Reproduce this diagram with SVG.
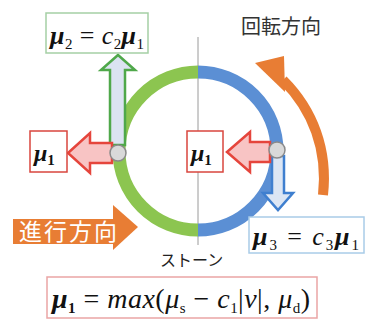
<svg xmlns="http://www.w3.org/2000/svg" width="368" height="320" viewBox="0 0 368 320">
<style>
.m{font-family:'Liberation Serif','Times New Roman',serif;fill:#111}
.b{font-weight:bold;font-style:italic}
.i{font-style:italic}
.sub{font-size:15px;font-style:normal}
.jp{font-family:'Noto Sans CJK JP','Noto Sans',sans-serif}
.box{fill:#fff;stroke-width:1.5}
.red{fill:#f8c4c4;stroke:#e5453c;stroke-width:2.5;stroke-linejoin:miter}
.gc{fill:#d9d9d9;stroke:#8a8a8a;stroke-width:1.5}
</style>
<rect width="368" height="320" fill="#fff"/>
<g id="connectors">
<line x1="198" y1="37" x2="198" y2="245" stroke="#9a9a9a" stroke-width="1"/>
</g>
<g id="stone">
<path d="M198 72 A79 79 0 0 0 198 230" fill="none" stroke="#8cc550" stroke-width="13"/>
<path d="M198 72 A79 79 0 0 1 198 230" fill="none" stroke="#5b8fd4" stroke-width="13"/>
</g>
<g id="rotation">
<path d="M323 195 C328 150 313 110 283 80" fill="none" stroke="#e87d34" stroke-width="10"/>
<polygon points="255,63 284,56 285,92" fill="#e87d34"/>
<text class="jp" x="241" y="34" font-size="20" fill="#333">回転方向</text>
</g>
<g id="advance">
<rect x="13" y="219" width="101" height="25" fill="#e87d34"/>
<polygon points="113,205 138,227 113,250" fill="#e87d34"/>
<text class="jp" x="19" y="240" font-size="23" fill="#fff" letter-spacing="2">進行方向</text>
</g>
<g id="mu2-arrow">
<polygon points="110,145 110,70 101,70 118,55 135,70 125,70 125,145" fill="#dbe3f1" stroke="#4fa84a" stroke-width="2.5"/>
</g>
<g id="mu3-arrow">
<polygon points="272,156 284,156 284,193 293,193 278,210 263,193 272,193" fill="#dce6f4" stroke="#3f7fcf" stroke-width="2.5"/>
</g>
<g id="left-force">
<polygon class="red" points="68,153 90,133 90,143 112,143 112,163 90,163 90,173"/>
<circle class="gc" cx="118" cy="153" r="8"/>
</g>
<g id="right-force">
<polygon class="red" points="227,152 250,132 250,142 270,142 270,162 250,162 250,172"/>
<circle class="gc" cx="277" cy="150" r="8"/>
</g>
<g id="mu2-box">
<rect class="box" x="46" y="13" width="102" height="40" stroke="#a5cfa5"/>
<text class="m" font-family="Liberation Serif, serif" x="50" y="44" font-size="26" textLength="94" lengthAdjust="spacing"><tspan class="b">μ</tspan><tspan class="sub" dy="5">2</tspan><tspan dy="-5"> = </tspan><tspan class="i">c</tspan><tspan class="sub" dy="5">2</tspan><tspan class="b" dy="-5">μ</tspan><tspan class="sub" dy="5">1</tspan></text>
</g>
<g id="mu1-left">
<rect class="box" x="30" y="131" width="37" height="41" stroke="#d9463e"/>
<text class="m" font-family="Liberation Serif, serif" x="34" y="161" font-size="24"><tspan class="b">μ</tspan><tspan class="sub" font-weight="bold" dy="4">1</tspan></text>
</g>
<g id="mu1-right">
<rect class="box" x="187" y="131" width="36" height="41" stroke="#d9463e"/>
<text class="m" font-family="Liberation Serif, serif" x="191" y="161" font-size="24"><tspan class="b">μ</tspan><tspan class="sub" font-weight="bold" dy="4">1</tspan></text>
</g>
<g id="mu3-box">
<rect class="box" x="249" y="217" width="115" height="36" stroke="#a9cce8"/>
<text class="m" font-family="Liberation Serif, serif" x="253" y="245" font-size="26" textLength="106" lengthAdjust="spacing"><tspan class="b">μ</tspan><tspan class="sub" dy="5">3</tspan><tspan dy="-5"> = </tspan><tspan class="i">c</tspan><tspan class="sub" dy="5">3</tspan><tspan class="b" dy="-5">μ</tspan><tspan class="sub" dy="5">1</tspan></text>
</g>
<g id="label-stone">
<text class="jp" x="160" y="266" font-size="16" fill="#222">ストーン</text>
</g>
<g id="formula">
<rect class="box" x="47" y="277" width="270" height="41" stroke="#eaa5a5"/>
<text class="m" font-family="Liberation Serif, serif" x="52" y="308" font-size="28" textLength="258" lengthAdjust="spacing"><tspan class="b">μ</tspan><tspan class="sub" font-weight="bold" dy="5">1</tspan><tspan dy="-5"> = </tspan><tspan class="i">max</tspan><tspan>(</tspan><tspan class="i">μ</tspan><tspan class="sub" dy="5">s</tspan><tspan dy="-5"> − </tspan><tspan class="i">c</tspan><tspan class="sub" dy="5">1</tspan><tspan dy="-5">|</tspan><tspan class="i">v</tspan><tspan>|, </tspan><tspan class="i">μ</tspan><tspan class="sub" dy="5">d</tspan><tspan dy="-5">)</tspan></text>
</g>
</svg>
